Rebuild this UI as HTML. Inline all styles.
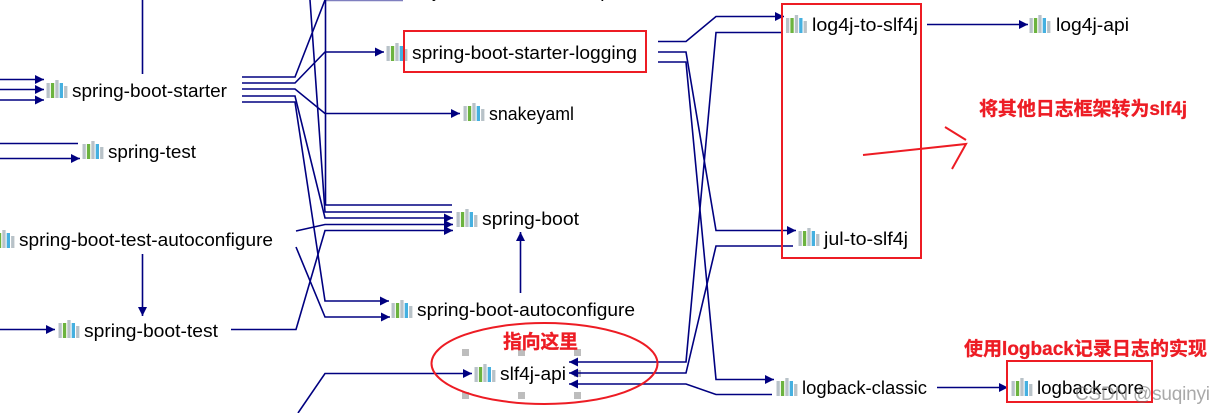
<!DOCTYPE html>
<html lang="zh">
<head>
<meta charset="utf-8">
<title>Spring Boot logging dependency diagram</title>
<style>
html,body{margin:0;padding:0;background:#fff;width:1225px;height:413px;overflow:hidden}
svg{display:block}
.l{fill:none;stroke:#000080;stroke-width:1.6}
.a{marker-end:url(#ah)}
.t{font-family:"Liberation Sans",sans-serif;font-size:18.500px;fill:#000}
.r{font-family:"Liberation Sans","Noto Sans CJK SC",sans-serif;font-size:19px;font-weight:700;fill:#ed1c24;stroke:#ed1c24;stroke-width:.3}
.b{fill:none;stroke:#ed1c24;stroke-width:2}
</style>
</head>
<body>
<svg width="1225" height="413" viewBox="0 0 1225 413" xmlns="http://www.w3.org/2000/svg">
<defs>
<marker id="ah" markerUnits="userSpaceOnUse" markerWidth="10" markerHeight="10" refX="9" refY="5" orient="auto">
<path d="M0 0.500L9 5L0 9.500Z" fill="#000080"/>
</marker>
<g id="ic">
<rect x="0" y="3" width="3.300" height="15" fill="#b8c2c8"/>
<rect x="4.400" y="3" width="3.300" height="15" fill="#6cb33f"/>
<rect x="8.800" y="0" width="3.300" height="18" fill="#b8c2c8"/>
<rect x="13.200" y="3" width="3.300" height="15" fill="#45b0e0"/>
<rect x="17.600" y="6" width="3.300" height="12" fill="#b8c2c8"/>
</g>
</defs>

<!-- selection handles -->
<g fill="#bdbdbd">
<rect x="462" y="349" width="7" height="7"/><rect x="518" y="349" width="7" height="7"/><rect x="574" y="349" width="7" height="7"/>
<rect x="574" y="370" width="7" height="7"/>
<rect x="462" y="392" width="7" height="7"/><rect x="518" y="392" width="7" height="7"/><rect x="574" y="392" width="7" height="7"/>
</g>

<!-- connectors left -->
<path class="l a" d="M0 79.500H44"/>
<path class="l a" d="M0 89.500H44"/>
<path class="l a" d="M0 100H44"/>
<path class="l" d="M142.500 0V74"/>
<path class="l" d="M0 143.500H78"/>
<path class="l a" d="M0 158.500H80"/>
<path class="l a" d="M142.500 254V316"/>
<path class="l a" d="M0 329.500H55"/>

<!-- starter fan-out -->
<path class="l" d="M242 77H295L325 0"/>
<path class="l a" d="M242 83H295L325 52H384"/>
<path class="l a" d="M242 89H295L325 113.500H460"/>
<path class="l a" d="M242 96H295L325 218H453"/>
<path class="l a" d="M242 102H295L325 301H389"/>
<path class="l" d="M325.500 0V205H452"/>
<path class="l" d="M325 0.500H403" stroke-opacity=".5"/>
<path class="l" d="M310 0L325 212H452"/>
<path class="l a" d="M296 231L325 224.500H453"/>
<path class="l a" d="M296 247L325 317H390"/>
<path class="l a" d="M231 329.500H296L325 230.500H453"/>
<path class="l a" d="M298 413L325 373.500H472"/>
<path class="l a" d="M520.500 293V232"/>

<!-- logging fan-out -->
<path class="l a" d="M658 41.500H686L716 16.500H784"/>
<path class="l a" d="M658 52H686L716 230.500H796"/>
<path class="l a" d="M658 62H686L716 379.500H774"/>
<path class="l a" d="M782 32.500H716L686 362H569"/>
<path class="l a" d="M793 246H716L686 373H569"/>
<path class="l a" d="M772 394.500H716L686 384H569"/>
<path class="l a" d="M927 24.500H1028"/>
<path class="l a" d="M937 387.500H1008"/>

<!-- icons -->
<use href="#ic" x="46.500" y="80"/>
<use href="#ic" x="82.500" y="141"/>
<use href="#ic" x="-6.500" y="230"/>
<use href="#ic" x="58.500" y="320"/>
<use href="#ic" x="386.500" y="43"/>
<use href="#ic" x="463.500" y="103"/>
<use href="#ic" x="456.500" y="209"/>
<use href="#ic" x="391.500" y="300"/>
<use href="#ic" x="474.500" y="364"/>
<use href="#ic" x="786" y="15"/>
<use href="#ic" x="1029.500" y="15"/>
<use href="#ic" x="798.500" y="228"/>
<use href="#ic" x="776.500" y="378"/>
<use href="#ic" x="1011.500" y="378"/>

<!-- labels -->
<text class="t" x="72" y="97" textLength="155" lengthAdjust="spacingAndGlyphs">spring-boot-starter</text>
<text class="t" x="108" y="158" textLength="88" lengthAdjust="spacingAndGlyphs">spring-test</text>
<text class="t" x="19" y="246" textLength="254" lengthAdjust="spacingAndGlyphs">spring-boot-test-autoconfigure</text>
<text class="t" x="84" y="337" textLength="134" lengthAdjust="spacingAndGlyphs">spring-boot-test</text>
<text class="t" x="433" y="-3" textLength="182" lengthAdjust="spacingAndGlyphs">jakarta.annotation-api</text>
<text class="t" x="412" y="59" textLength="225" lengthAdjust="spacingAndGlyphs">spring-boot-starter-logging</text>
<text class="t" x="489" y="120" textLength="85" lengthAdjust="spacingAndGlyphs">snakeyaml</text>
<text class="t" x="482" y="225" textLength="97" lengthAdjust="spacingAndGlyphs">spring-boot</text>
<text class="t" x="417" y="316" textLength="218" lengthAdjust="spacingAndGlyphs">spring-boot-autoconfigure</text>
<text class="t" x="500" y="380" textLength="66" lengthAdjust="spacingAndGlyphs">slf4j-api</text>
<text class="t" x="812" y="31" textLength="106" lengthAdjust="spacingAndGlyphs">log4j-to-slf4j</text>
<text class="t" x="1056" y="31" textLength="73" lengthAdjust="spacingAndGlyphs">log4j-api</text>
<text class="t" x="824" y="245" textLength="84" lengthAdjust="spacingAndGlyphs">jul-to-slf4j</text>
<text class="t" x="802" y="394" textLength="125" lengthAdjust="spacingAndGlyphs">logback-classic</text>
<text class="t" x="1037" y="394" textLength="107" lengthAdjust="spacingAndGlyphs">logback-core</text>

<!-- red annotations -->
<rect class="b" x="404" y="31" width="242" height="41"/>
<rect class="b" x="782" y="4" width="139" height="254"/>
<rect class="b" x="1007" y="361" width="145" height="41"/>
<ellipse class="b" cx="544.500" cy="363.500" rx="113" ry="40.500"/>
<path class="b" d="M863 155L966 144L952 169M945 127L966 140"/>
<text class="r" x="979" y="115" textLength="208">将其他日志框架转为slf4j</text>
<text class="r" x="503" y="348" textLength="75">指向这里</text>
<text class="r" x="964" y="355" textLength="243">使用logback记录日志的实现</text>

<!-- watermark -->
<text x="1075" y="400" textLength="135" style="font-family:'Liberation Sans',sans-serif;font-size:19px;fill:#707070;fill-opacity:.6">CSDN @suqinyi</text>
</svg>
</body>
</html>
